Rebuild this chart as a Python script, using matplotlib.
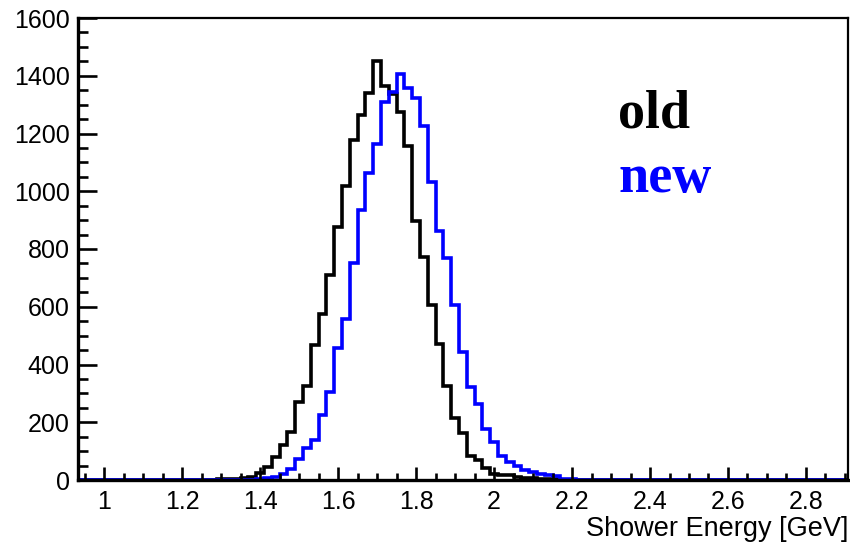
import numpy as np
import matplotlib
matplotlib.use("Agg")
import matplotlib.pyplot as plt
from matplotlib.ticker import MultipleLocator

# Histogram binning (Shower Energy, GeV)
bin_low = 0.93
bin_width = 0.02
n_bins = 100

# "old" reconstruction: counts for consecutive bins starting at 1.29 GeV
old_start = 1.29
old_counts = [2, 3, 5, 8, 12, 25, 44, 81, 121, 165, 270, 325, 466, 576, 711,
              875, 1017, 1178, 1265, 1340, 1450, 1365, 1338, 1276, 1157, 898,
              774, 607, 472, 325, 215, 163, 82, 68, 40, 22, 17, 18, 10, 8, 6,
              5, 3, 2, 1]

# "new" reconstruction: counts for consecutive bins starting at 1.37 GeV
new_start = 1.37
new_counts = [1, 3, 6, 9, 22, 39, 71, 111, 137, 225, 305, 457, 558, 752, 935,
              1063, 1162, 1310, 1343, 1405, 1357, 1322, 1226, 1031, 861, 769,
              605, 442, 322, 262, 178, 131, 82, 63, 50, 36, 27, 22, 19, 15, 5,
              3, 1]

legend_labels = ["old", "new"]
x_label = "Shower Energy [GeV]"
x_ticks = [1, 1.2, 1.4, 1.6, 1.8, 2, 2.2, 2.4, 2.6, 2.8]
x_tick_labels = ["1", "1.2", "1.4", "1.6", "1.8", "2", "2.2", "2.4", "2.6", "2.8"]
y_ticks = [0, 200, 400, 600, 800, 1000, 1200, 1400, 1600]


def full_hist(start, counts):
    h = np.zeros(n_bins)
    i0 = int(round((start - bin_low) / bin_width))
    h[i0:i0 + len(counts)] = counts
    return h


edges = bin_low + bin_width * np.arange(n_bins + 1)
h_old = full_hist(old_start, old_counts)
h_new = full_hist(new_start, new_counts)

plt.rcParams['font.family'] = ['Liberation Sans', 'DejaVu Sans']

fig = plt.figure(figsize=(8.5, 5.42), dpi=100)
ax = fig.add_axes([78 / 850, 1 - 480 / 542, 770 / 850, 462 / 542])

ax.stairs(h_old, edges, color="black", linewidth=2.6, baseline=None)
ax.stairs(h_new, edges, color="#0000ff", linewidth=2.6, baseline=None)

ax.set_xlim(0.9333, 2.9077)
ax.set_ylim(0, 1600)

ax.set_xticks(x_ticks)
ax.set_xticklabels(x_tick_labels)
ax.set_yticks(y_ticks)
ax.xaxis.set_minor_locator(MultipleLocator(0.05))
ax.yaxis.set_minor_locator(MultipleLocator(50))

ax.tick_params(axis="both", which="both", direction="in", top=False, right=False,
               labelsize=18, width=1.9)
ax.tick_params(axis="x", which="major", length=9.5, pad=7)
ax.tick_params(axis="x", which="minor", length=4.8)
ax.tick_params(axis="y", which="major", length=14, pad=6)
ax.tick_params(axis="y", which="minor", length=7)

for s in ["left", "bottom"]:
    ax.spines[s].set_linewidth(2.4)
for s in ["top", "right"]:
    ax.spines[s].set_linewidth(1.6)

ax.set_xlabel(x_label, fontsize=19.5, loc="right", labelpad=2)

ax.text(0.7013, 0.764, legend_labels[0], transform=ax.transAxes,
        fontsize=39, fontweight="bold", family="Liberation Serif", color="black")
ax.text(0.7013, 0.623, legend_labels[1], transform=ax.transAxes,
        fontsize=39, fontweight="bold", family="Liberation Serif", color="#0000ff")

fig.savefig("out.png", dpi=100)
